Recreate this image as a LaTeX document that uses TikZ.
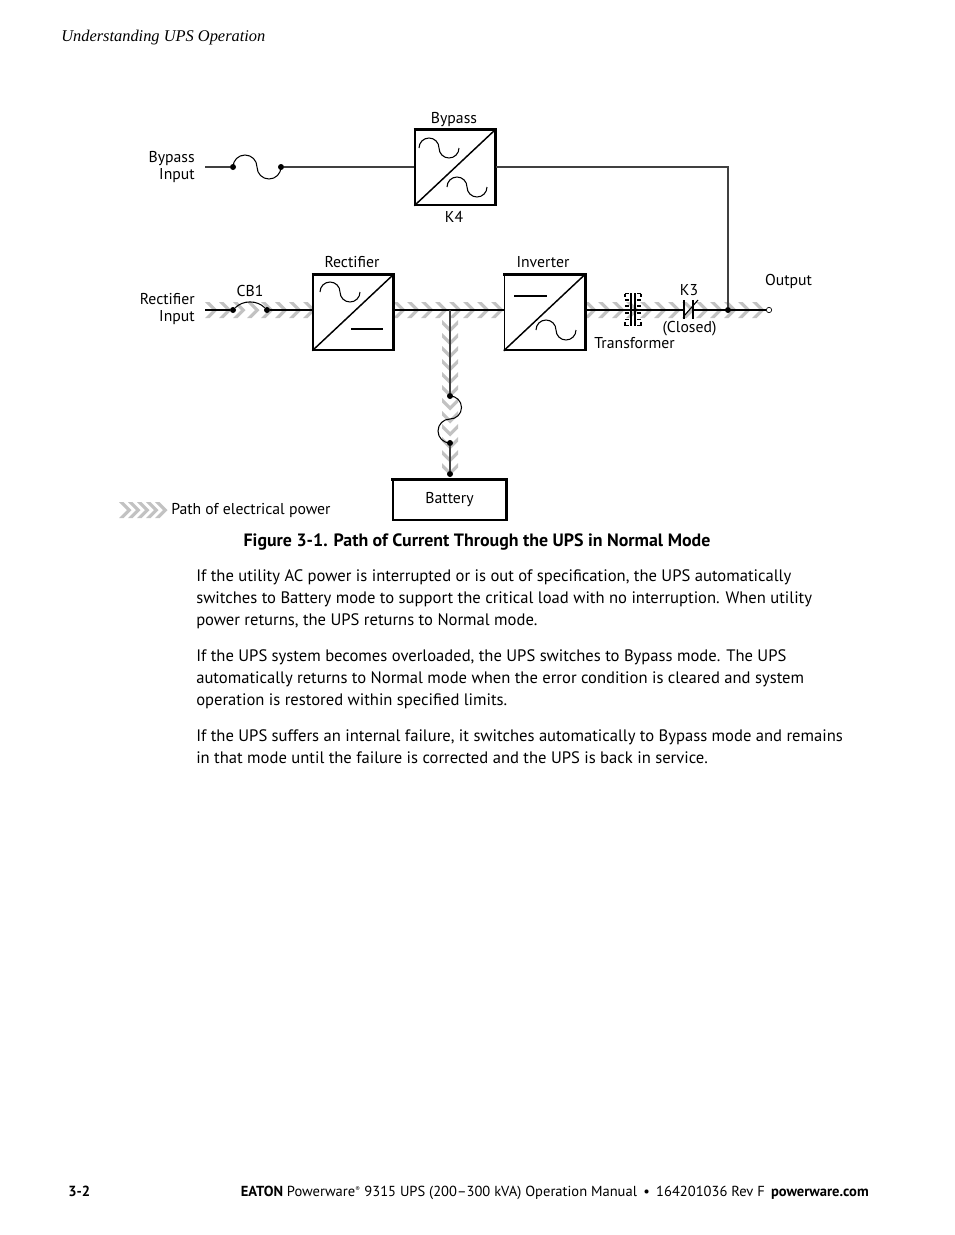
\documentclass[tikz,border=0pt]{standalone}
\usepackage{fontspec}
\setmainfont{PT Sans}
\newfontfamily\headfont{Liberation Serif}
\usetikzlibrary{positioning,calc}
\definecolor{pathgray}{gray}{0.76}
\tikzset{
  converter/.style={draw,fill=white,line width=1.1pt,minimum width=60pt,minimum height=56.25pt,inner sep=0pt},
  heavy/.style={line width=2.2pt},
  wire/.style={line width=.8pt,black!75},
  powerwire/.style={line width=1.3pt,black},
  curve/.style={line width=.8pt},
  dot/.style={circle,fill=black,inner sep=0pt,minimum size=4.5pt},
  opendot/.style={circle,draw,fill=white,line width=.5pt,inner sep=0pt,minimum size=4pt},
  label/.style={inner sep=0pt,font=\fontsize{11.8}{12.8}\selectfont,align=center},
  bodytext/.style={inner sep=0pt,anchor=north west,align=left,font=\fontsize{12.45}{16.5}\selectfont},
  chevron/.style={fill=pathgray}
}
% one acwave per box
\newcommand{\acwave}[1]{\draw[curve] (#1) arc[start angle=180,end angle=360,radius=10] arc[start angle=180,end angle=0,radius=10];}
% chevrons of the power path
\newcommand{\chevright}[4]{\foreach \cx in {#1,#2,...,#3}
  \fill[chevron] (\cx-10,#4-8) -- (\cx-5.5,#4-8) -- (\cx+2.5,#4) -- (\cx-5.5,#4+8) -- (\cx-10,#4+8) -- (\cx-2,#4) -- cycle;}
\newcommand{\chevdown}[4]{\foreach \cy in {#1,#2,...,#3}
  \fill[chevron] (#4-8,\cy-10) -- (#4-8,\cy-5.5) -- (#4,\cy+2.5) -- (#4+8,\cy-5.5) -- (#4+8,\cy-10) -- (#4,\cy-2) -- cycle;}
\begin{document}
\begin{tikzpicture}[x=.75pt,y=-.75pt]
  \useasboundingbox[fill=white] (0,0) rectangle (954,1235);
  % power path
  \chevright{215}{229}{313}{310}
  \chevright{403}{417}{504}{310}
  \chevright{594}{608}{768}{310}
  \chevdown{330}{343}{478}{450}
  \chevright{129}{138}{166}{510}

  % boxes
  \node[converter] (k4) at (455,167.5) {};
  \node[converter] (rect) at (353,312.5) {};
  \node[converter,right=82.5pt of rect] (inv) {};
  \node[converter,minimum width=85pt,minimum height=30pt,font=\fontsize{11.8}{13}\selectfont] (batt) at (449.5,500) {\raisebox{-1pt}{Battery}};
  \foreach \b in {k4,rect,inv,batt}
    \draw[heavy] ([xshift=-.5pt]\b.north west) -- (\b.north east) -- ([yshift=-.5pt]\b.south east);
  \foreach \b in {k4,rect,inv}
    \draw[line width=1.1pt] (\b.south west) -- (\b.north east);
  \acwave{419,148}
  \acwave{447,187}
  \acwave{320,292}
  \acwave{536,330}
  \draw[line width=1.1pt] (351,329) -- (383,329);
  \draw[line width=1.1pt] (514,296) -- (547,296);

  % junction points
  \coordinate (bypassin) at (205,167);
  \node[dot] (f1) at (233,167) {};
  \node[dot] (f2) at (281,167) {};
  \coordinate (bypassend) at (728,167);
  \coordinate (rectin) at (205,310);
  \node[dot] (cb1a) at (233,310) {};
  \node[dot] (cb1b) at (267,310) {};
  \node[dot] (out) at (728,310) {};
  \node[opendot] (output) at (769,310) {};
  \coordinate (tee) at (450,310);
  \node[dot] (b1) at (450,396) {};
  \node[dot] (b2) at (450,443) {};
  \node[dot] (b3) at (450,474) {};
  \coordinate (xfl) at (633,310);
  \coordinate (k3l) at (684,310);
  \coordinate (k3r) at (693,310);

  % connectors
  \draw[wire] (bypassin) -- (f1);
  \draw[wire] (f2) -- (f2 -| k4.west);
  \draw[wire] (k4.east |- bypassend) -- (bypassend) -- (out);
  \draw[curve] (f1) arc[start angle=180,end angle=360,radius=12] arc[start angle=180,end angle=0,radius=12];
  \draw[powerwire] (rectin) -- (cb1a);
  \draw[powerwire] (cb1b) -- (rect.west |- cb1b);
  \draw[curve] (cb1a) .. controls (243,300) and (257,300) .. (cb1b);
  \draw[powerwire] (rect.east |- tee) -- (inv.west |- tee);
  \draw[powerwire] (inv.east |- xfl) -- (k3l);
  \draw[powerwire] (k3r) -- (output);
  \draw[wire] (tee) -- (b1);
  \draw[curve] (b1) arc[start angle=-90,end angle=90,radius=11.5];
  \draw[curve] (450,419) arc[start angle=-90,end angle=-270,radius=12];
  \draw[wire] (b2) -- (b3);
  \draw[line width=.8pt] (684,300) -- (684,319);
  \draw[line width=.8pt] (693,300) -- (693,319);
  \draw[line width=.8pt] (684,316) -- (698,300);

  % transformer
  \draw[line width=1.1pt] (631,293) -- (631,326) (635,293) -- (635,326);
  \foreach \sy in {293.5,300,306,313,319.5,325.5}{
    \draw[curve] (629,\sy) -- (625,\sy);
    \draw[curve] (637,\sy) -- (641,\sy);
  }
  \draw[curve] (625,293.5) -- (625,297) (641,293.5) -- (641,297) (625,322) -- (625,325.5) (641,322) -- (641,325.5);

  % labels
  \node[label] (l1) at (454,120) {Bypass};
  \node[label] (l2) at (454,217) {K4};
  \node[label,anchor=east,align=right] (l3) at (195,167) {Bypass\\Input};
  \node[label,anchor=east,align=right] (l4) at (195,309) {Rectifier\\Input};
  \node[label] (l5) at (250,291) {CB1};
  \node[label] (l6) at (352,262) {Rectifier};
  \node[label] (l7) at (543,262) {Inverter};
  \node[label] (l8) at (634.5,343) {Transformer};
  \node[label] (l9) at (689,290) {K3};
  \node[label] (l10) at (689.5,329) {(Closed)};
  \node[label] (l11) at (788.5,281) {Output};
  \node[label,anchor=west] (l12) at (171,510) {Path of electrical power};

  % page text
  \node[inner sep=0pt,anchor=west,font=\headfont\itshape\fontsize{12.3}{13}\selectfont] (head) at (61,38) {Understanding UPS Operation};
  \node[inner sep=0pt,font=\bfseries\fontsize{13.4}{14}\selectfont] (cap) at (477,542) {Figure 3-1. Path of Current Through the UPS in Normal Mode};
  \node[bodytext] (p1) at (196,569) {If the utility AC power is interrupted or is out of specification, the UPS automatically\\switches to Battery mode to support the critical load with no interruption. When utility\\power returns, the UPS returns to Normal mode.};
  \node[bodytext] (p2) at (196,649) {If the UPS system becomes overloaded, the UPS switches to Bypass mode. The UPS\\automatically returns to Normal mode when the error condition is cleared and system\\operation is restored within specified limits.};
  \node[bodytext] (p3) at (196,729) {If the UPS suffers an internal failure, it switches automatically to Bypass mode and remains\\in that mode until the failure is corrected and the UPS is back in service.};
  \node[inner sep=0pt,anchor=west,font=\bfseries\fontsize{11}{13}\selectfont] (page) at (68,1191) {3-2};
  \node[inner sep=0pt,anchor=east,font=\fontsize{10.9}{13}\selectfont] (foot) at (869,1193) {\textbf{EATON} Powerware\textsuperscript{\tiny ®} 9315 UPS (200--300 kVA) Operation Manual \,•\, 164201036 Rev F \,\textbf{powerware.com}};
\end{tikzpicture}
\end{document}
